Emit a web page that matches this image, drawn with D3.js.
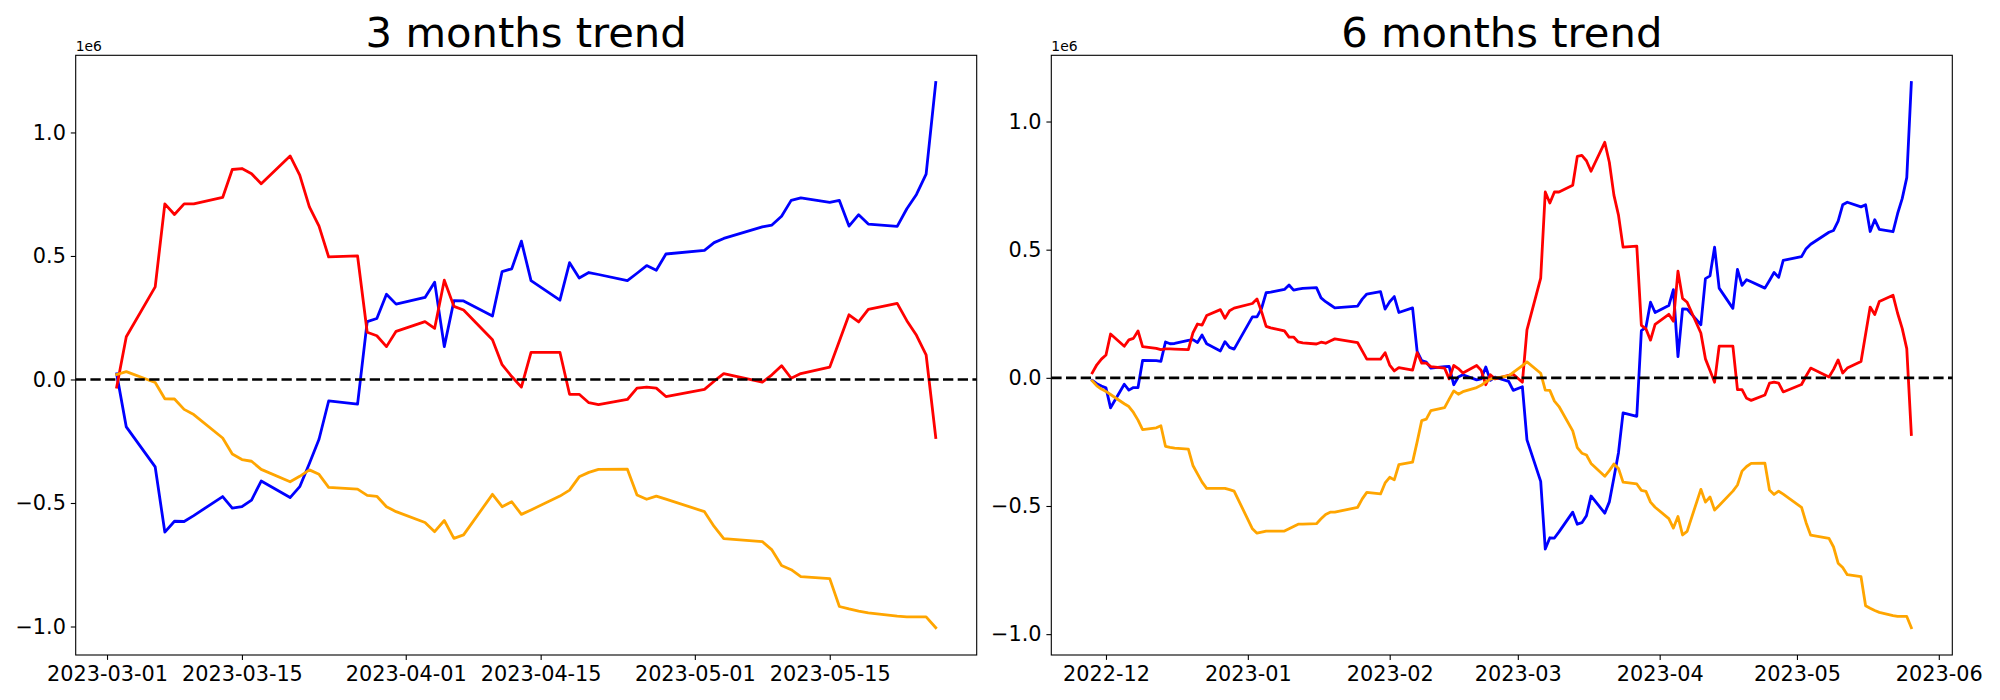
<!DOCTYPE html>
<html><head><meta charset="utf-8">
<script src="https://cdn.jsdelivr.net/npm/d3@7"></script>
<style>body{margin:0;background:#fff}svg{display:block}text{font-family:"DejaVu Sans",sans-serif}</style>
</head><body>
<svg id="chart" width="2000" height="700"></svg>
<script>
// ---------- data (values in units of 1e6) ----------
const dates3m = ["2023-03-02","2023-03-03","2023-03-06","2023-03-07","2023-03-08","2023-03-09","2023-03-10","2023-03-13","2023-03-14","2023-03-15","2023-03-16","2023-03-17","2023-03-20","2023-03-21","2023-03-22","2023-03-23","2023-03-24","2023-03-27","2023-03-28","2023-03-29","2023-03-30","2023-03-31",
"2023-04-03","2023-04-04","2023-04-05","2023-04-06","2023-04-07","2023-04-10","2023-04-11","2023-04-12","2023-04-13","2023-04-14","2023-04-17","2023-04-18","2023-04-19","2023-04-20","2023-04-21","2023-04-24","2023-04-25","2023-04-26","2023-04-27","2023-04-28",
"2023-05-02","2023-05-03","2023-05-04","2023-05-08","2023-05-09","2023-05-10","2023-05-11","2023-05-12","2023-05-15","2023-05-16","2023-05-17","2023-05-18","2023-05-19","2023-05-22","2023-05-23","2023-05-24","2023-05-25","2023-05-26"];

const blue3m = [0.023,-0.192,-0.354,-0.618,-0.574,-0.575,-0.551,-0.474,-0.521,-0.515,-0.488,-0.411,-0.478,-0.434,-0.340,-0.242,-0.087,-0.100,0.234,0.247,0.345,0.305,
0.332,0.394,0.133,0.319,0.318,0.257,0.437,0.448,0.560,0.400,0.321,0.473,0.411,0.433,0.425,0.400,0.430,0.461,0.442,0.508,
0.523,0.554,0.571,0.618,0.625,0.661,0.725,0.735,0.717,0.725,0.621,0.667,0.629,0.620,0.691,0.749,0.831,1.202];

const red3m = [-0.031,0.173,0.375,0.711,0.668,0.711,0.711,0.737,0.850,0.854,0.833,0.792,0.905,0.827,0.699,0.621,0.496,0.500,0.191,0.177,0.133,0.195,
0.234,0.207,0.402,0.296,0.281,0.161,0.060,0.012,-0.031,0.110,0.110,-0.060,-0.060,-0.094,-0.102,-0.081,-0.035,-0.031,-0.035,-0.069,
-0.040,-0.007,0.024,-0.011,0.019,0.056,0.005,0.024,0.050,0.156,0.262,0.233,0.284,0.308,0.238,0.179,0.100,-0.235];

const orange3m = [0.020,0.032,-0.012,-0.078,-0.079,-0.121,-0.142,-0.237,-0.302,-0.324,-0.331,-0.364,-0.414,-0.392,-0.366,-0.384,-0.437,-0.444,-0.469,-0.473,-0.515,-0.535,
-0.579,-0.616,-0.571,-0.643,-0.629,-0.465,-0.515,-0.495,-0.546,-0.528,-0.472,-0.448,-0.394,-0.376,-0.364,-0.363,-0.468,-0.485,-0.472,-0.484,
-0.535,-0.595,-0.644,-0.656,-0.690,-0.753,-0.770,-0.798,-0.806,-0.919,-0.929,-0.938,-0.945,-0.958,-0.961,-0.961,-0.961,-1.005];

const dates6m = ["2022-11-28","2022-11-29","2022-11-30",
"2022-12-01","2022-12-02","2022-12-05","2022-12-06","2022-12-07","2022-12-08","2022-12-09","2022-12-12","2022-12-13","2022-12-14","2022-12-15","2022-12-16","2022-12-19","2022-12-20","2022-12-21","2022-12-22","2022-12-23","2022-12-26","2022-12-27","2022-12-28","2022-12-29",
"2023-01-02","2023-01-03","2023-01-04","2023-01-05","2023-01-06","2023-01-09","2023-01-10","2023-01-11","2023-01-12","2023-01-13","2023-01-16","2023-01-17","2023-01-18","2023-01-19","2023-01-20","2023-01-25","2023-01-26","2023-01-27","2023-01-30","2023-01-31",
"2023-02-01","2023-02-02","2023-02-03","2023-02-06","2023-02-07","2023-02-08","2023-02-09","2023-02-10","2023-02-13","2023-02-14","2023-02-15","2023-02-16","2023-02-17","2023-02-20","2023-02-21","2023-02-22","2023-02-23","2023-02-24","2023-02-27","2023-02-28",
"2023-03-02","2023-03-03","2023-03-06","2023-03-07","2023-03-08","2023-03-09","2023-03-10","2023-03-13","2023-03-14","2023-03-15","2023-03-16","2023-03-17","2023-03-20","2023-03-21","2023-03-22","2023-03-23","2023-03-24","2023-03-27","2023-03-28","2023-03-29","2023-03-30","2023-03-31",
"2023-04-03","2023-04-04","2023-04-05","2023-04-06","2023-04-07","2023-04-10","2023-04-11","2023-04-12","2023-04-13","2023-04-14","2023-04-17","2023-04-18","2023-04-19","2023-04-20","2023-04-21","2023-04-24","2023-04-25","2023-04-26","2023-04-27","2023-04-28",
"2023-05-02","2023-05-03","2023-05-04","2023-05-08","2023-05-09","2023-05-10","2023-05-11","2023-05-12","2023-05-15","2023-05-16","2023-05-17","2023-05-18","2023-05-19","2023-05-22","2023-05-23","2023-05-24","2023-05-25","2023-05-26"];

const blue6m = [-0.010,-0.023,-0.032,
-0.039,-0.117,-0.025,-0.048,-0.038,-0.038,0.068,0.067,0.064,0.140,0.133,0.134,0.146,0.149,0.138,0.167,0.133,0.105,0.141,0.119,0.112,
0.238,0.238,0.271,0.332,0.334,0.345,0.362,0.342,0.346,0.349,0.352,0.312,0.297,0.285,0.273,0.280,0.307,0.327,0.336,0.268,
0.297,0.317,0.255,0.273,0.103,0.067,0.061,0.038,0.044,0.045,-0.027,0.003,0.012,-0.008,-0.004,0.042,-0.010,0.003,-0.014,-0.049,
-0.035,-0.242,-0.404,-0.668,-0.624,-0.625,-0.601,-0.524,-0.571,-0.565,-0.538,-0.461,-0.528,-0.484,-0.390,-0.292,-0.137,-0.150,0.184,0.197,0.295,0.255,
0.282,0.344,0.083,0.269,0.268,0.207,0.387,0.398,0.510,0.350,0.271,0.423,0.361,0.383,0.375,0.350,0.380,0.411,0.392,0.458,
0.473,0.504,0.521,0.568,0.575,0.611,0.675,0.685,0.667,0.675,0.571,0.617,0.579,0.570,0.641,0.699,0.781,1.152];

const red6m = [0.019,0.051,0.073,
0.089,0.171,0.123,0.148,0.154,0.183,0.122,0.115,0.110,0.113,0.113,0.112,0.110,0.175,0.210,0.206,0.243,0.266,0.232,0.262,0.272,
0.290,0.308,0.258,0.201,0.195,0.183,0.159,0.159,0.140,0.136,0.132,0.139,0.135,0.144,0.152,0.137,0.105,0.073,0.073,0.098,
0.050,0.027,0.040,0.030,0.098,0.057,0.057,0.044,0.038,-0.004,0.048,0.036,0.019,0.048,0.029,-0.027,0.012,-0.004,0.010,0.014,
-0.017,0.187,0.389,0.725,0.682,0.725,0.725,0.751,0.864,0.868,0.847,0.806,0.919,0.841,0.713,0.635,0.510,0.514,0.205,0.191,0.147,0.209,
0.248,0.221,0.416,0.310,0.295,0.175,0.074,0.029,-0.017,0.124,0.124,-0.046,-0.046,-0.080,-0.088,-0.067,-0.021,-0.017,-0.021,-0.055,
-0.026,0.007,0.038,0.003,0.033,0.070,0.019,0.038,0.064,0.170,0.276,0.247,0.298,0.322,0.252,0.193,0.114,-0.221];

const orange6m = [-0.012,-0.031,-0.044,
-0.053,-0.065,-0.101,-0.112,-0.135,-0.165,-0.202,-0.195,-0.187,-0.267,-0.271,-0.274,-0.278,-0.342,-0.375,-0.407,-0.431,-0.431,-0.431,-0.436,-0.442,
-0.589,-0.606,-0.602,-0.598,-0.598,-0.598,-0.589,-0.580,-0.571,-0.571,-0.569,-0.550,-0.533,-0.524,-0.524,-0.505,-0.472,-0.447,-0.453,-0.410,
-0.388,-0.398,-0.339,-0.329,-0.250,-0.167,-0.161,-0.128,-0.116,-0.083,-0.051,-0.064,-0.054,-0.038,-0.029,-0.016,-0.005,-0.001,0.008,0.021,
0.048,0.062,0.018,-0.048,-0.049,-0.091,-0.112,-0.207,-0.272,-0.294,-0.301,-0.334,-0.384,-0.362,-0.336,-0.354,-0.407,-0.414,-0.439,-0.443,-0.485,-0.505,
-0.549,-0.586,-0.541,-0.613,-0.599,-0.435,-0.485,-0.465,-0.516,-0.498,-0.442,-0.418,-0.364,-0.346,-0.334,-0.333,-0.438,-0.455,-0.442,-0.454,
-0.505,-0.565,-0.614,-0.626,-0.660,-0.723,-0.740,-0.768,-0.776,-0.889,-0.899,-0.908,-0.915,-0.928,-0.931,-0.931,-0.931,-0.975];

const xTicks3m = ["2023-03-01","2023-03-15","2023-04-01","2023-04-15","2023-05-01","2023-05-15"];
const xTicks6m = ["2022-12-01","2023-01-01","2023-02-01","2023-03-01","2023-04-01","2023-05-01","2023-06-01"];
const yTicks = [-1.0, -0.5, 0.0, 0.5, 1.0];
const titles = ["3 months trend", "6 months trend"];
const seriesColors = ["blue", "red", "orange"];

// ---------- drawing ----------
const svg = d3.select("#chart");
const parse = d3.utcParse("%Y-%m-%d");
const minus = s => s.replace("-", "\u2212");

function panel(cfg) {
  const {left, right, top, bottom, title, dates, series, xTicks, xFmt} = cfg;
  const g = svg.append("g");
  const ds = dates.map(parse);
  const t0 = +ds[0], t1 = +ds[ds.length - 1], pad = (t1 - t0) * 0.05;
  const x = d3.scaleUtc().domain([new Date(t0 - pad), new Date(t1 + pad)]).range([left, right]);
  const all = series.flatMap(s => s.values);
  const lo = d3.min(all), hi = d3.max(all), ypad = (hi - lo) * 0.05;
  const y = d3.scaleLinear().domain([lo - ypad, hi + ypad]).range([bottom, top]);

  const line = d3.line().x((d, i) => x(ds[i])).y(d => y(d));
  series.forEach(s => {
    g.append("path").datum(s.values).attr("d", line)
      .attr("fill", "none").attr("stroke", s.color).attr("stroke-width", 2.8)
      .attr("stroke-linejoin", "round").attr("stroke-linecap", "square");
  });
  // zero reference line
  g.append("line").attr("x1", left).attr("x2", right).attr("y1", y(0)).attr("y2", y(0))
    .attr("stroke", "black").attr("stroke-width", 2.6).attr("stroke-dasharray", "10.3,4.4");

  // frame
  g.append("rect").attr("x", left).attr("y", top).attr("width", right - left).attr("height", bottom - top)
    .attr("fill", "none").attr("stroke", "black").attr("stroke-width", 1.1);

  const xa = d3.axisBottom(x).tickValues(xTicks.map(parse)).tickFormat(xFmt)
    .tickSize(4.9).tickPadding(4.9).tickSizeOuter(0);
  const gx = g.append("g").attr("transform", `translate(0,${bottom})`).call(xa);
  const ya = d3.axisLeft(y).tickValues(yTicks).tickFormat(v => minus(d3.format(".1f")(v)))
    .tickSize(4.9).tickPadding(4.9).tickSizeOuter(0);
  const gy = g.append("g").attr("transform", `translate(${left},0)`).call(ya);
  [gx, gy].forEach(a => {
    a.select(".domain").remove();
    a.selectAll(".tick line").attr("stroke", "black").attr("stroke-width", 1.1);
    a.selectAll(".tick text").attr("fill", "black").style("font-size", "20.8px")
      .style("font-family", '"DejaVu Sans", sans-serif');
  });
  gx.selectAll(".tick text").attr("dy", "0.78em");

  g.append("text").attr("x", left).attr("y", top - 4.5).text("1e6")
    .style("font-size", "13.9px").attr("fill", "black");
  g.append("text").attr("x", (left + right) / 2).attr("y", top - 8.5).attr("text-anchor", "middle")
    .text(title).style("font-size", "41.7px").attr("fill", "black");
}

panel({left: 75.7, right: 976.7, top: 55.3, bottom: 655, title: titles[0], dates: dates3m,
  series: [{values: blue3m, color: seriesColors[0]}, {values: red3m, color: seriesColors[1]}, {values: orange3m, color: seriesColors[2]}],
  xTicks: xTicks3m, xFmt: d3.utcFormat("%Y-%m-%d")});
panel({left: 1051.3, right: 1952.3, top: 55.3, bottom: 655, title: titles[1], dates: dates6m,
  series: [{values: blue6m, color: seriesColors[0]}, {values: red6m, color: seriesColors[1]}, {values: orange6m, color: seriesColors[2]}],
  xTicks: xTicks6m, xFmt: d3.utcFormat("%Y-%m")});
</script>
</body></html>
